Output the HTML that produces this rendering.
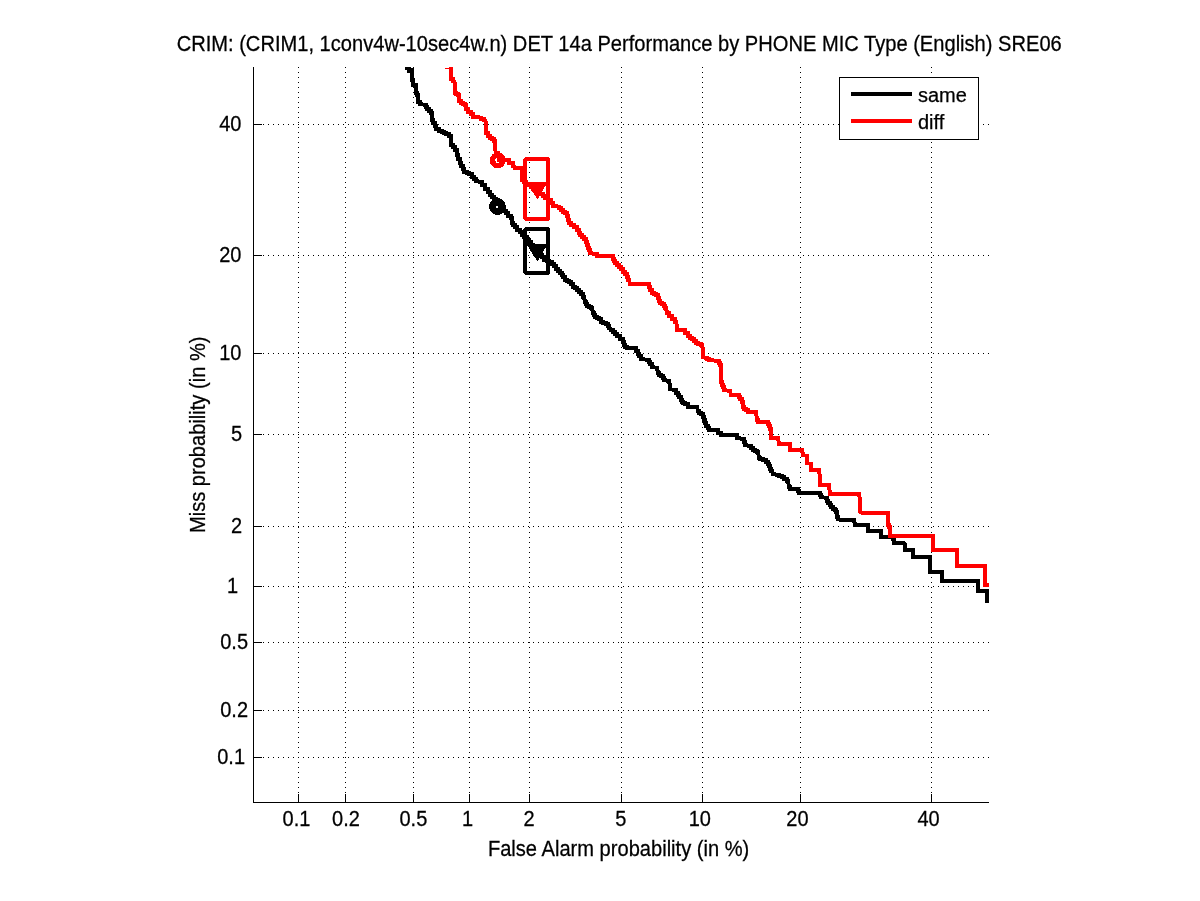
<!DOCTYPE html>
<html><head><meta charset="utf-8"><style>
html,body{margin:0;padding:0;background:#fff;width:1200px;height:901px;overflow:hidden}
svg{display:block;will-change:transform}
text{font-family:"Liberation Sans",Arial,Helvetica,sans-serif;font-size:20px;fill:#000;stroke:#000;stroke-width:0.25px}
</style></head><body>
<svg width="1200" height="901" viewBox="0 0 1200 901">
<rect x="0" y="0" width="1200" height="901" fill="#fff"/>
<defs><clipPath id="ax"><rect x="253" y="67" width="736" height="736"/></clipPath></defs>
<g stroke="#000" stroke-width="1" stroke-dasharray="1 4" shape-rendering="crispEdges">
<line x1="298.5" y1="67" x2="298.5" y2="794"/>
<line x1="345.5" y1="67" x2="345.5" y2="794"/>
<line x1="413.5" y1="67" x2="413.5" y2="794"/>
<line x1="469.5" y1="67" x2="469.5" y2="794"/>
<line x1="529.5" y1="67" x2="529.5" y2="794"/>
<line x1="621.5" y1="67" x2="621.5" y2="794"/>
<line x1="702.5" y1="67" x2="702.5" y2="794"/>
<line x1="800.5" y1="67" x2="800.5" y2="794"/>
<line x1="931.5" y1="67" x2="931.5" y2="794"/>
<line x1="253" y1="124.5" x2="989" y2="124.5"/>
<line x1="253" y1="255.5" x2="989" y2="255.5"/>
<line x1="253" y1="353.5" x2="989" y2="353.5"/>
<line x1="253" y1="434.5" x2="989" y2="434.5"/>
<line x1="253" y1="526.5" x2="989" y2="526.5"/>
<line x1="253" y1="586.5" x2="989" y2="586.5"/>
<line x1="253" y1="642.5" x2="989" y2="642.5"/>
<line x1="253" y1="710.5" x2="989" y2="710.5"/>
<line x1="253" y1="757.5" x2="989" y2="757.5"/>
</g>
<g clip-path="url(#ax)" shape-rendering="crispEdges" fill="none" stroke-width="4" stroke-linejoin="miter" stroke-linecap="butt">
<polyline stroke="#000" points="412,67.5 412,80 413,80 413,85 416,85 416,93 417,93 417,95 418,95 418,102 419.5,102 419.5,104 421,104 425,105 425.75,105 425.75,107 427.25,107 427.25,109 428,109 428.88,109 428.88,111 430.62,111 430.62,113 431.5,113 431.5,120 433,120 433,123 434.5,123 434.5,126 436.25,126 436.25,129 438,129 439.25,129 439.25,130.5 441.75,130.5 441.75,132 443,132 444,132 444,133 446,133 446,134 447,134 448.75,134 448.75,136 450.5,136 450.5,143 451.38,143 451.38,145 453.12,145 453.12,147 454,147 455.25,147 455.25,150 456.5,150 456.5,155 458,155 458,158.5 459.5,158.5 459.5,163 461,163 461,166 462.5,166 462.5,169 464,169 464,172 465.5,172 466.62,172 466.62,172.75 468.88,172.75 468.88,173.5 470,173.5 471.5,173.5 471.5,176.5 473,176.5 474,176.5 474,178.75 476,178.75 476,181 477,181 480.5,182 482,182 482,185 483.5,185 485,185 485,188.5 486.5,188.5 488,188.5 488,192 489.5,192 490.38,192 490.38,194.5 492.12,194.5 492.12,197 493,197 494,197 494,199.33 496,199.33 496,201.67 498,201.67 498,204 499,204 500,204 500,206.25 502,206.25 502,208.5 504,208.5 504,210.75 506,210.75 506,213 507,213 508.25,213 508.25,215.5 510.75,215.5 510.75,218 512,218 512,223 513,223 513,225 515,225 515,227 516,227 517.25,227 517.25,229.5 519.75,229.5 519.75,232 521,232 522.11,232 522.11,234.5 524.34,234.5 524.34,237 526.57,237 526.57,239.5 528.8,239.5 528.8,242 531.02,242 531.02,244.5 533.25,244.5 533.25,247 535.48,247 535.48,249.5 537.7,249.5 537.7,252 539.93,252 539.93,254.5 542.16,254.5 542.16,257 544.39,257 544.39,259.5 545.5,259.5 546.75,259.5 546.75,260.75 549.25,260.75 549.25,262 550.5,262 551.5,262 551.5,264 553.5,264 553.5,266 554.5,266 555.5,266 555.5,268.5 557.5,268.5 557.5,271 558.5,271 559.5,271 559.5,273 561.5,273 561.5,275 562.5,275 563.38,275 563.38,277.25 565.12,277.25 565.12,279.5 566,279.5 567,279.5 567,280.75 569,280.75 569,282 570,282 571,282 571,284.25 573,284.25 573,286.5 574,286.5 575,286.5 575,288.25 577,288.25 577,290 578,290 579,290 579,291.75 581,291.75 581,293.5 582,293.5 583,293.5 583,297 584,297 585,302 585.75,302 585.75,304 587.25,304 587.25,306 588,306 589,306 589,307 591,307 591,308 592,308 593,313 593.75,313 593.75,315 595.25,315 595.25,317 596,317 597,317 597,318 599,318 599,319 600,319 601,319 601,322 602,322 603.25,322 603.25,323 605.75,323 605.75,324 607,324 607.75,324 607.75,326 609.25,326 609.25,328 610,328 611,330 612.5,330 612.5,332 614,332 615,332 615,334 617,334 617,336 618,336 619.5,336 619.5,339 621,339 622.5,339 622.5,342 624,342 624,345 625,345 625,346.5 627,346.5 627,348 628,348 634,348 635.5,348 635.5,351 637,351 637.75,351 637.75,353.5 639.25,353.5 639.25,356 640,356 641,356 641,359 642,359 648,360 648.5,360 648.5,362 649.5,362 649.5,364 650,364 651.5,364 651.5,367 653,367 657,368 658,373 659,373 659,374.5 661,374.5 661,376 662,376 662.5,376 662.5,378 663.5,378 663.5,380 664,380 669,381 670,386 670,389 674,390 675.5,390 675.5,393 677,393 677.75,393 677.75,395 679.25,395 679.25,397 680,397 680.5,397 680.5,399.5 681.5,399.5 681.5,402 682,402 683,402 683,403 685,403 685,404 686,404 687.5,404 687.5,407 689,407 697,407 698,411 699,411 699,412.5 701,412.5 701,414 702,414 702.5,414 702.5,417 703.5,417 703.5,420 704,420 704.75,420 704.75,423 706.25,423 706.25,426 707,426 707.75,426 707.75,428 709.25,428 709.25,430 710,430 717,430 718,430 718,433 719,433 720.5,433 720.5,435 722,435 735,435 736.5,435 736.5,438 738,438 743,439 743.5,439 743.5,442 744.5,442 744.5,445 745,445 750,446 751,446 751,448 753,448 753,450 754,450 755,450 755,451 757,451 757,452 758,452 759,458 760.25,458 760.25,459 762.75,459 762.75,460 764,460 765.5,460 765.5,462 767,462 767.5,462 767.5,464 768.5,464 768.5,466 769,466 769.75,466 769.75,468.5 771.25,468.5 771.25,471 772,471 773,474 778,475 779.25,475 779.25,476 781.75,476 781.75,477 783,477 784.25,477 784.25,479 786.75,479 786.75,481 788,481 789,487 790,487 790,489 791,489 797,489 797.5,489 797.5,491 798.5,491 798.5,493 799,493 819,493 819.75,493 819.75,495 821.25,495 821.25,497 822,497 826,498 826.75,498 826.75,500.5 828.25,500.5 828.25,503 829,503 829.75,503 829.75,505 831.25,505 831.25,507 832,507 833,507 833,508.5 835,508.5 835,510 836,510 836.25,510 836.25,512.25 836.75,512.25 836.75,514.5 837.25,514.5 837.25,516.75 837.75,516.75 837.75,519 838,519 840,520 854,520 855,525 868,525 868,531 881,531 881,537 892,537 893,537 893,539 894,539 894,543 904,543 905,544 905,550 913,550 913,557 930,557 930,572 942,572 942,581 978,581 978,591 986.5,591 986.5,603"/>
<polyline stroke="#000" points="405,68.4 408.6,68.4 408.6,70.8 412,70.8"/>
<polyline stroke="#f00" points="451,64 451,79 452.5,79 452.5,81 454,81 455,83 455,93 456,93 456,94 458,94 458,95 459,95 459,101 460.5,101 460.5,103 462,103 463,103 463,104 465,104 465,105 466,105 466,109 467.5,109 467.5,112 469,112 470.5,112 470.5,114 472,114 473,114 473,117 474,117 480,117.5 481.25,117.5 481.25,118.75 483.75,118.75 483.75,120 485,120 486,122 486,133 487.5,133 487.5,136 489,136 490.12,136 490.12,137.5 492.38,137.5 492.38,139 493.5,139 494.25,139 494.25,141 495,141 495,149 496,153 497.5,153 497.5,155 499,155 499,159.5 507.5,159.5 509.25,159.5 509.25,163 511,163 512.5,163 512.5,166 514,166 515,168 522,168 522,180 523.5,180 523.5,182 525,182 526.19,182 526.19,183.69 528.56,183.69 528.56,185.38 530.94,185.38 530.94,187.06 533.31,187.06 533.31,188.75 535.69,188.75 535.69,190.44 538.06,190.44 538.06,192.12 540.44,192.12 540.44,193.81 542.81,193.81 542.81,195.5 544,195.5 545.25,195.5 545.25,197.5 547.75,197.5 547.75,199.5 549,199.5 550.75,199.5 550.75,203 552.5,203 552.5,206 558,206.5 559,206.5 559,208.25 561,208.25 561,210 562,210 563,210 563,211.5 565,211.5 565,213 566,213 567,213 567,216 568,216 568,220 569,220 569,223 570,223 571.25,223 571.25,225 573.75,225 573.75,227 575,227 576.5,227 576.5,230 578,230 578.75,230 578.75,232.5 580.25,232.5 580.25,235 581,235 582,235 582,237 584,237 584,239 585,239 585.5,239 585.5,242 586.5,242 586.5,245 587,245 587.5,245 587.5,247.67 588.5,247.67 588.5,250.33 589.5,250.33 589.5,253 590,253 595,254 596.5,254 596.5,256 598,256 612,256 612.5,256 612.5,258.5 613.5,258.5 613.5,261 614,261 615,261 615,263 617,263 617,265 618,265 619,265 619,267 621,267 621,269 622,269 623,269 623,271.5 625,271.5 625,274 626,274 626.75,274 626.75,277 628.25,277 628.25,280 629,280 630,284 648,284 648.5,284 648.5,287 649.5,287 649.5,290 650,290 651.5,290 651.5,293 653,293 654,293 654,294 656,294 656,295 657,295 657.5,295 657.5,298 658.5,298 658.5,301 659,301 660,301 660,302.5 662,302.5 662,304 663,304 663.75,304 663.75,306 665.25,306 665.25,308 666,308 667,313 668.5,313 668.5,316 670,316 671.5,316 671.5,319 673,319 674.5,319 674.5,322 676,322 677,326 677,330 683,330 684.5,330 684.5,333 686,333 687.5,333 687.5,336 689,336 690,336 690,337.5 692,337.5 692,339 693,339 694,339 694,341 696,341 696,343 697,343 698.25,343 698.25,344 700.75,344 700.75,345 702,345 703,350 703,357 706,358 707,358 707,359 709,359 709,360 710,360 718,361 718.75,361 718.75,363 720.25,363 720.25,365 721,365 721,382 721.5,382 721.5,384.67 722.5,384.67 722.5,387.33 723.5,387.33 723.5,390 724,390 730,391 731,395 738,395 738.75,395 738.75,397 740.25,397 740.25,399 741,399 741.5,399 741.5,401.5 742.5,401.5 742.5,404 743,404 743,407 744,407 744,408.5 746,408.5 746,410 747,410 748,410 748,412 749,412 756,412 757,420 758,420 758,422 759,422 767,422 767.5,422 767.5,424 768.5,424 768.5,426 769,426 770,426 770,429 771,429 771,438 778,438 779,444 790,444 790,450 802,450 803,455 807,456 807,463 811,464 811,470 819,470 820,478 820,485 829,485 830,494 859,494 860,500 860,512 862,513 888,513 888,525 889,525 889,527 890,527 890,535.6 933,535.6 933,549.6 957,549.6 957,566 985,566 985,585 991,585"/>
<line x1="445" y1="68.5" x2="450" y2="68.5" stroke="#f00" stroke-width="1"/>
<circle cx="497.8" cy="160.3" r="5.25" stroke="#f00" stroke-width="5.5"/>
<circle cx="497.5" cy="206.5" r="5.1" stroke="#000" stroke-width="6.6"/>
<rect x="525" y="159" width="23" height="60" stroke="#f00" stroke-linejoin="bevel"/>
<polygon points="526,181.5 548,181.5 537.5,199.5" fill="#f00" stroke="none"/>
<rect x="525" y="229" width="23" height="44" stroke="#000" stroke-linejoin="bevel"/>
<polygon points="526,243.5 548,243.5 537.5,261.5" fill="#000" stroke="none"/>
</g>
<path d="M253.5,67V803M253,802.5H989 M298.5,802V794M345.5,802V794M413.5,802V794M469.5,802V794M529.5,802V794M621.5,802V794M702.5,802V794M800.5,802V794M931.5,802V794M254,124.5H262M254,255.5H262M254,353.5H262M254,434.5H262M254,526.5H262M254,586.5H262M254,642.5H262M254,710.5H262M254,757.5H262" stroke="#000" stroke-width="1" fill="none" shape-rendering="crispEdges"/>
<g text-anchor="middle">
<text transform="translate(296.45,826) scale(1,1.07)" text-anchor="middle">0.1</text>
<text transform="translate(346.00,826) scale(1,1.07)" text-anchor="middle">0.2</text>
<text transform="translate(413.40,826) scale(1,1.07)" text-anchor="middle">0.5</text>
<text transform="translate(467.65,826) scale(1,1.07)" text-anchor="middle">1</text>
<text transform="translate(529.00,826) scale(1,1.07)" text-anchor="middle">2</text>
<text transform="translate(620.90,826) scale(1,1.07)" text-anchor="middle">5</text>
<text transform="translate(699.85,826) scale(1,1.07)" text-anchor="middle">10</text>
<text transform="translate(797.40,826) scale(1,1.07)" text-anchor="middle">20</text>
<text transform="translate(928.60,826) scale(1,1.07)" text-anchor="middle">40</text>
</g>
<g text-anchor="end">
<text transform="translate(241.40,131) scale(1,1.07)" text-anchor="end">40</text>
<text transform="translate(241.40,262) scale(1,1.07)" text-anchor="end">20</text>
<text transform="translate(241.40,360) scale(1,1.07)" text-anchor="end">10</text>
<text transform="translate(242.00,441) scale(1,1.07)" text-anchor="end">5</text>
<text transform="translate(242.00,533) scale(1,1.07)" text-anchor="end">2</text>
<text transform="translate(238.00,593) scale(1,1.07)" text-anchor="end">1</text>
<text transform="translate(248.00,649) scale(1,1.07)" text-anchor="end">0.5</text>
<text transform="translate(248.00,717) scale(1,1.07)" text-anchor="end">0.2</text>
<text transform="translate(245.00,764) scale(1,1.07)" text-anchor="end">0.1</text>
</g>
<g>
<rect x="839.5" y="77.5" width="139" height="62" fill="#fff" stroke="#000" stroke-width="1"/>
<line x1="851" y1="94" x2="912" y2="94" stroke="#000" stroke-width="4"/>
<line x1="851" y1="121" x2="912" y2="121" stroke="#f00" stroke-width="4"/>
<text x="918" y="102">same</text>
<text x="918" y="129">diff</text>
</g>
<text transform="translate(619.2,51) scale(1.006,1.07)" text-anchor="middle">CRIM: (CRIM1, 1conv4w-10sec4w.n) DET 14a Performance by PHONE MIC Type (English) SRE06</text>
<text transform="translate(618.6,856) scale(1.006,1.07)" text-anchor="middle">False Alarm probability (in %)</text>
<text transform="translate(205,434.8) rotate(-90) scale(1.005,1.07)" text-anchor="middle">Miss probability (in %)</text>
</svg>
</body></html>
